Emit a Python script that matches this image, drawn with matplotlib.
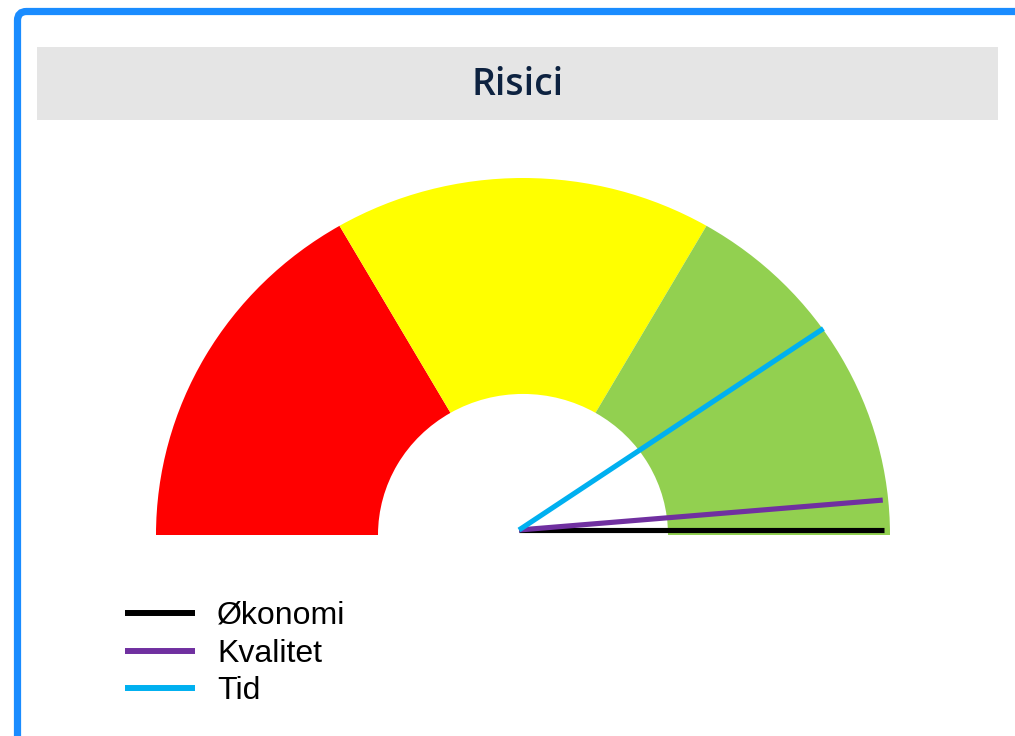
import numpy as np
import matplotlib.pyplot as plt
from matplotlib.patches import Wedge, FancyBboxPatch, Rectangle
from matplotlib.transforms import Affine2D

# gauge bands (degrees, 0 = right, 180 = left)
band_starts = [120, 60, 0]
band_ends = [180, 120, 60]
band_colors = ['#ff0000', '#ffff00', '#92d050']

# needles
names = ['Økonomi', 'Kvalitet', 'Tid']
needle_angles = [0.0, 4.7, 33.5]
needle_colors = ['#000000', '#7030a0', '#00b0f0']

title = 'Risici'

fig = plt.figure(figsize=(10.15, 7.36), dpi=100)
ax = fig.add_axes([0, 0, 1, 1])
ax.set_xlim(0, 1015)
ax.set_ylim(736, 0)
ax.axis('off')

# outer blue frame
frame = FancyBboxPatch((17.5, 11.5), 1100, 800,
                       boxstyle='round,pad=0,rounding_size=9',
                       fc='white', ec='#1a8cff', lw=5.2, zorder=0)
ax.add_patch(frame)

# title bar
ax.add_patch(Rectangle((37, 47), 961, 73, fc='#e5e5e5', ec='none', zorder=1))
ax.text(518, 85, title, ha='center', va='center', fontsize=27,
        family='Open Sans', fontweight='semibold', color='#0d2240', zorder=2)

# gauge bands
cx, cy = 523, 535
rx, ry = 367, 357
tr = Affine2D().scale(1, -ry / rx).translate(cx, cy) + ax.transData
for a0, a1, c in zip(band_starts, band_ends, band_colors):
    w = Wedge((0, 0), rx, a0, a1, width=rx - 145, fc=c, ec='none',
              transform=tr, zorder=2, antialiased=True)
    ax.add_patch(w)

# needles
px, py = 519, 530
length = 365
for ang, c in zip(needle_angles, needle_colors):
    t = np.radians(ang)
    ax.plot([px, px + length * np.cos(t)], [py, py - length * np.sin(t)],
            color=c, lw=3.7, solid_capstyle='butt', zorder=3)

# legend
for i, (n, c) in enumerate(zip(names, needle_colors)):
    y = 613 + i * 37.5
    ax.plot([125, 195], [y, y], color=c, lw=4.3, solid_capstyle='butt')
    ax.text(217, y + 3, n, ha='left', va='center', fontsize=23,
            family='Liberation Sans', color='black')

fig.savefig('out.png', dpi=100)
